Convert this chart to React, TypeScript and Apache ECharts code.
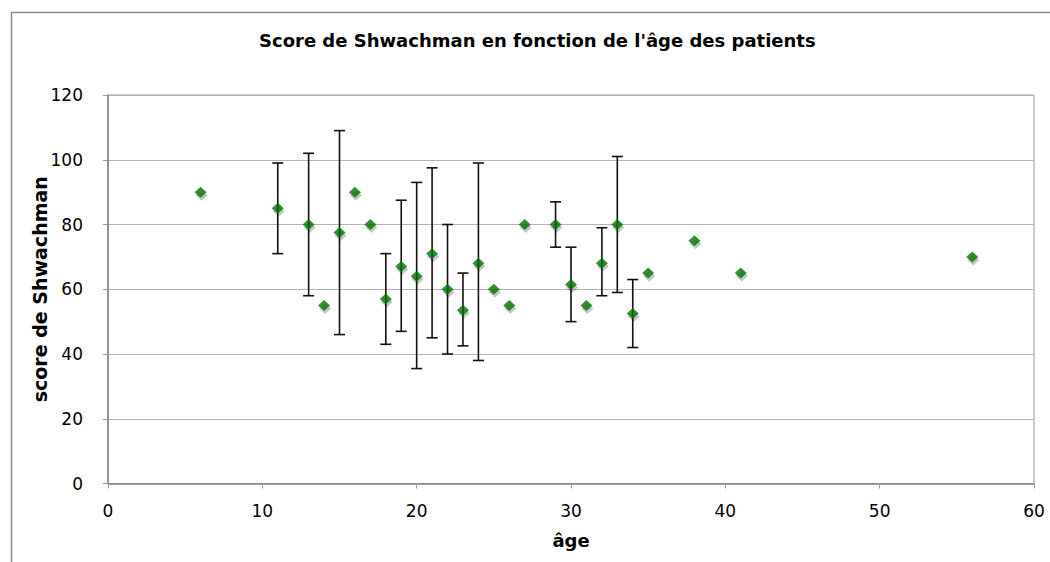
import React, { useEffect, useRef } from "react";
import * as echarts from "echarts";

const ages = [6, 11, 13, 14, 15, 16, 17, 18, 19, 20, 21, 22, 23, 24, 25, 26, 27, 29, 30, 31, 32, 33, 34, 35, 38, 41, 56];
const scores = [90, 85, 80, 55, 77.5, 90, 80, 57, 67, 64, 71, 60, 53.5, 68, 60, 55, 80, 80, 61.5, 55, 68, 80, 52.5, 65, 75, 65, 70];
const errLow: (number | null)[] = [null, 71, 58, null, 46, null, null, 43, 47, 35.5, 45, 40, 42.5, 38, null, null, null, 73, 50, null, 58, 59, 42, null, null, null, null];
const errHigh: (number | null)[] = [null, 99, 102, null, 109, null, null, 71, 87.5, 93, 97.5, 80, 65, 99, null, null, null, 87, 73, null, 79, 101, 63, null, null, null, null];

const titleText = "Score de Shwachman en fonction de l'âge des patients";
const xName = "âge";
const yName = "score de Shwachman";

export default function App() {
  const ref = useRef<HTMLDivElement>(null);
  useEffect(() => {
    if (!ref.current) return;
    const chart = echarts.init(ref.current, null, { renderer: "svg" });
    const points = ages.map((a, i) => [a, scores[i]]);
    const errData: number[][] = [];
    ages.forEach((a, i) => {
      if (errLow[i] != null && errHigh[i] != null) errData.push([a, errLow[i] as number, errHigh[i] as number]);
    });
    const font = "'DejaVu Sans', Verdana, sans-serif";
    chart.setOption({
      animation: false,
      backgroundColor: "#ffffff",
      textStyle: { fontFamily: font },
      title: {
        text: titleText,
        left: 259,
        top: 31,
        padding: 0,
        textStyle: { fontFamily: font, fontWeight: "bold", fontSize: 18, color: "#000" },
      },
      graphic: [
        {
          type: "rect",
          shape: { x: 11.5, y: 12.5, width: 1200, height: 700 },
          style: { fill: "none", stroke: "#8a8a8a", lineWidth: 1.5 },
          silent: true,
          z: -1,
        },
      ],
      grid: { left: 108, right: 16, top: 95, bottom: 78.5, show: true, borderColor: "#9a9a9a", borderWidth: 1, backgroundColor: "transparent" },
      xAxis: {
        type: "value",
        min: 0,
        max: 60,
        interval: 10,
        name: xName,
        nameLocation: "middle",
        nameGap: 48,
        nameMoveOverlap: false,
        nameTextStyle: { fontFamily: font, fontWeight: "bold", fontSize: 18, color: "#000" },
        axisLine: { show: true, lineStyle: { color: "#808080", width: 1.5 } },
        axisTick: { show: true, length: 5, lineStyle: { color: "#9a9a9a" } },
        axisLabel: { fontSize: 17, color: "#000", margin: 19, fontFamily: font },
        splitLine: { show: false },
      },
      yAxis: {
        type: "value",
        min: 0,
        max: 120,
        interval: 20,
        name: yName,
        nameLocation: "middle",
        nameGap: 59,
        nameMoveOverlap: false,
        nameTextStyle: { fontFamily: font, fontWeight: "bold", fontSize: 19, color: "#000" },
        axisLine: { show: true, lineStyle: { color: "#808080", width: 1.5 } },
        axisTick: { show: true, length: 5, lineStyle: { color: "#9a9a9a" } },
        axisLabel: { fontSize: 17, color: "#000", margin: 25, fontFamily: font },
        splitLine: { show: true, lineStyle: { color: "#b4b4b4", width: 1 } },
      },
      series: [
        {
          type: "custom",
          data: errData,
          z: 2,
          renderItem: (params: any, api: any) => {
            const x = api.value(0);
            const top = api.coord([x, api.value(2)]);
            const bot = api.coord([x, api.value(1)]);
            const cap = 5.5;
            const style = { stroke: "#111", lineWidth: 1.6 };
            return {
              type: "group",
              children: [
                { type: "line", shape: { x1: top[0], y1: top[1], x2: bot[0], y2: bot[1] }, style },
                { type: "line", shape: { x1: top[0] - cap, y1: top[1], x2: top[0] + cap, y2: top[1] }, style },
                { type: "line", shape: { x1: bot[0] - cap, y1: bot[1], x2: bot[0] + cap, y2: bot[1] }, style },
              ],
            };
          },
        },
        {
          type: "scatter",
          data: points,
          symbol: "diamond",
          symbolSize: [12, 11],
          symbolOffset: [1, 3],
          z: 4,
          silent: true,
          itemStyle: { color: "rgba(0,0,0,0.28)" },
        },
        {
          type: "scatter",
          data: points,
          symbol: "diamond",
          symbolSize: [12, 11],
          z: 5,
          itemStyle: { color: "#007400" },
        },
      ],
    });
    return () => chart.dispose();
  }, []);
  return <div ref={ref} style={{ position: "absolute", left: 0, top: 0, width: 1050, height: 562 }} />;
}
